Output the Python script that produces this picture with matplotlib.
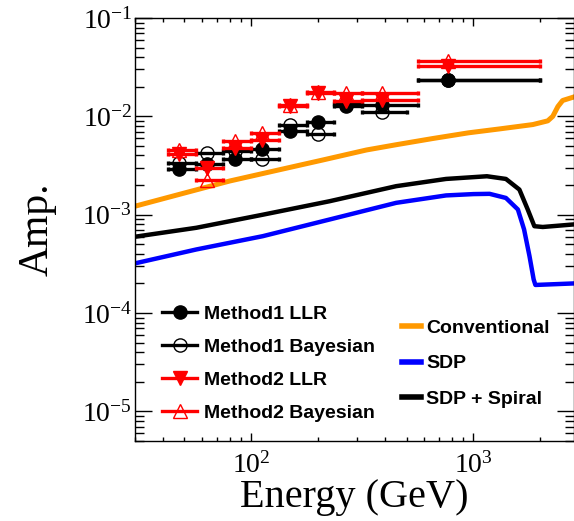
import matplotlib
matplotlib.use("Agg")
import matplotlib.pyplot as plt
from matplotlib.lines import Line2D
from matplotlib.ticker import LogLocator, NullFormatter
import numpy as np

plt.rcParams['mathtext.fontset'] = 'stix'
plt.rcParams['font.family'] = ['Liberation Serif', 'DejaVu Serif']

# energy points and bin edges (GeV)
e_pts = [47.2, 63.2, 84.4, 112, 150, 200, 267, 388, 766]
e_lo = [42.2, 56.2, 75, 100, 133, 178, 237, 316, 562]
e_hi = [56.2, 75, 100, 133, 178, 237, 316, 562, 2000]
e_hi_bay1 = [56.2, 75, 100, 133, 178, 237, 316, 500, 2000]

m1_llr = [2.92e-3, 3.31e-3, 3.69e-3, 4.70e-3, 7.05e-3, 8.69e-3, 1.26e-2, 1.31e-2, 2.36e-2]
m1_bay = [3.36e-3, 4.24e-3, 4.4e-3, 3.69e-3, 8.2e-3, 6.62e-3, 1.33e-2, 1.12e-2, 2.36e-2]
m2_llr = [4.18e-3, 2.98e-3, 4.8e-3, 5.7e-3, 1.27e-2, 1.72e-2, 1.42e-2, 1.48e-2, 3.22e-2]
m2_bay = [4.59e-3, 2.25e-3, 5.6e-3, 6.7e-3, 1.30e-2, 1.75e-2, 1.73e-2, 1.73e-2, 3.68e-2]

# model curves
conv_e = [30, 50, 80, 130, 210, 330, 450, 656, 950, 1310, 1850, 2160, 2275, 2400, 2520, 2820]
conv_amp = [1.22e-3, 1.66e-3, 2.2e-3, 2.82e-3, 3.6e-3, 4.55e-3, 5.15e-3, 5.95e-3, 6.8e-3,
            7.45e-3, 8.25e-3, 9.0e-3, 1.0e-2, 1.26e-2, 1.45e-2, 1.57e-2]

sdp_e = [30, 56.6, 112.8, 225, 449, 753, 1000, 1182, 1400, 1585, 1690, 1787, 1866, 1900, 2820]
sdp_amp = [3.2e-4, 4.43e-4, 6.05e-4, 8.93e-4, 1.32e-3, 1.57e-3, 1.62e-3, 1.63e-3, 1.48e-3,
           1.13e-3, 7.08e-4, 3.8e-4, 2.2e-4, 1.93e-4, 2.0e-4]

spiral_e = [30, 56.6, 112.8, 225, 449, 753, 1150, 1400, 1610, 1755, 1880, 2051, 2820]
spiral_amp = [5.97e-4, 7.36e-4, 1.0e-3, 1.37e-3, 1.95e-3, 2.31e-3, 2.46e-3, 2.31e-3, 1.80e-3,
              1.13e-3, 7.64e-4, 7.5e-4, 7.96e-4]

W, H = 574, 521
fig = plt.figure(figsize=(W / 100, H / 100), dpi=100)
ax = fig.add_axes([135 / W, 1 - 441 / H, 438.5 / W, 423 / H])

ax.plot(conv_e, conv_amp, color='#ff9900', lw=3.6, zorder=2)
ax.plot(sdp_e, sdp_amp, color='#0000ff', lw=3.2, zorder=2)
ax.plot(spiral_e, spiral_amp, color='black', lw=3.2, zorder=2)

x = np.array(e_pts)


def punkte(y, hi, color, marker, mfc, ms, z):
    xerr = [x - np.array(e_lo), np.array(hi) - x]
    ax.errorbar(x, y, xerr=xerr, fmt='none', ecolor=color, elinewidth=2.4,
                capsize=1.6, capthick=2.4, zorder=z)
    ax.plot(x, y, ls='none', marker=marker, color=color, mfc=mfc, mec=color,
            ms=ms, mew=1.0, zorder=z + 0.5)


punkte(m1_llr, e_hi, 'black', 'o', 'black', 9.5, 3)
punkte(m1_bay, e_hi_bay1, 'black', 'o', 'none', 9.5, 4)
punkte(m2_llr, e_hi, 'red', 'v', 'red', 10, 5)
punkte(m2_bay, e_hi, 'red', '^', 'none', 10, 6)

ax.set_xscale('log')
ax.set_yscale('log')
ax.set_xlim(30, 2820)
ax.set_ylim(5e-6, 0.1)

for a in (ax.xaxis, ax.yaxis):
    a.set_major_locator(LogLocator(base=10, numticks=20))
    a.set_minor_locator(LogLocator(base=10, subs=np.arange(2, 10), numticks=20))
    a.set_minor_formatter(NullFormatter())

ax.tick_params(axis='both', which='both', direction='in', top=True, right=True,
               width=1.0, labelsize=20, colors='black')
ax.tick_params(axis='y', which='major', length=12.5, pad=2)
ax.tick_params(axis='y', which='minor', length=6.5)
ax.tick_params(axis='x', which='major', length=6, pad=8)
ax.tick_params(axis='x', which='minor', length=3.2)
for s in ax.spines.values():
    s.set_linewidth(1.0)

ax.set_xlabel('Energy (GeV)', fontsize=29, labelpad=0)
ax.set_ylabel('Amp.', fontsize=30, labelpad=18)

sans = ['Liberation Sans', 'DejaVu Sans']
h1 = [Line2D([], [], color='black', lw=2.4, marker='o', ms=9.5, mfc='black'),
      Line2D([], [], color='black', lw=2.4, marker='o', ms=9.5, mfc='none', mew=1.0),
      Line2D([], [], color='red', lw=2.4, marker='v', ms=10, mfc='red'),
      Line2D([], [], color='red', lw=2.4, marker='^', ms=10, mfc='none', mew=1.0)]
l1 = ['Method1 LLR', 'Method1 Bayesian', 'Method2 LLR', 'Method2 Bayesian']
leg1 = fig.legend(h1, l1, loc='upper left', bbox_to_anchor=(162 / W, 1 - 305 / H),
                  frameon=False, handlelength=1.8, handletextpad=0.35,
                  labelspacing=0.8, borderpad=0, borderaxespad=0,
                  prop={'family': sans, 'weight': 'bold', 'size': 14})

h2 = [Line2D([], [], color='#ff9900', lw=4),
      Line2D([], [], color='#0000ff', lw=4),
      Line2D([], [], color='black', lw=4)]
l2 = ['Conventional', 'SDP', 'SDP + Spiral']
leg2 = fig.legend(h2, l2, loc='upper left', bbox_to_anchor=(402 / W, 1 - 319 / H),
                  frameon=False, handlelength=1.0, handletextpad=0.25,
                  labelspacing=0.93, borderpad=0, borderaxespad=0,
                  prop={'family': sans, 'weight': 'bold', 'size': 14})

fig.savefig('out.png', dpi=100)
